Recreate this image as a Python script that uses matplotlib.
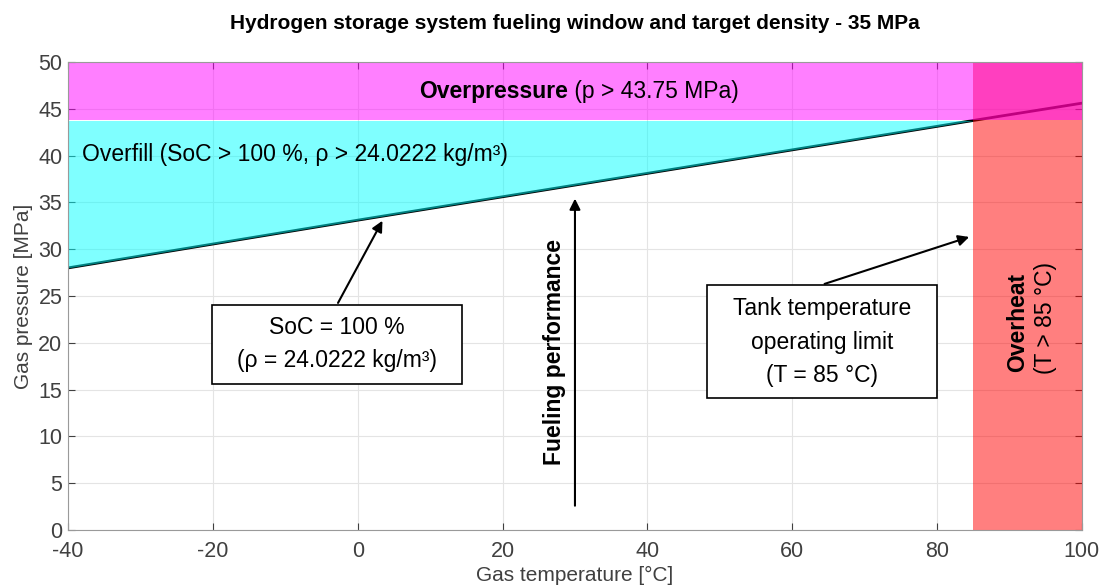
import numpy as np
import matplotlib.pyplot as plt
from matplotlib.patches import Rectangle

plt.rcParams['font.family'] = ['Liberation Sans', 'DejaVu Sans']
plt.rcParams['axes.unicode_minus'] = False

# temperatura [°C] e pressão [MPa] da linha SoC = 100 %
temp_soc = [-40, 0, 40, 85, 100]
press_soc = [28.0, 33.1, 38.1, 43.75, 45.6]

t_min, t_max = -40, 100
p_limite = 43.75
t_limite = 85
p_max = 50

xticks = [-40, -20, 0, 20, 40, 60, 80, 100]
yticks = [0, 5, 10, 15, 20, 25, 30, 35, 40, 45, 50]

fs = 16.5  # tamanho das anotações

fig = plt.figure(figsize=(11.04, 5.88), dpi=100)
ax = fig.add_axes([0.0616, 0.0986, 0.9184, 0.796])

t = np.array(temp_soc)
p = np.array(press_soc)

# linha SoC (por baixo das regiões transparentes)
ax.plot(t, p, color='black', lw=2, zorder=1)

# sobreaquecimento
ax.fill_between([t_limite, t_max], 0, p_max, color='red', alpha=0.5, lw=0, zorder=2)
# região de sobrepressão
ax.fill_between([t_min, t_max], p_limite, p_max, color='magenta', alpha=0.5, lw=0, zorder=2)
# overfill entre a linha e o limite de pressão
m = t <= t_limite
ax.fill_between(t[m], p[m], p_limite, color='cyan', alpha=0.5, lw=0, zorder=2)

ax.set_xlim(t_min, t_max)
ax.set_ylim(0, p_max)
ax.set_xticks(xticks)
ax.set_yticks(yticks)
ax.grid(True, color='#e4e4e4', lw=0.8, zorder=0)
ax.set_axisbelow(True)
ax.tick_params(direction='in', which='both', top=True, right=True,
               labelsize=15.5, colors='#404040', length=5)
ax.tick_params(axis='x', pad=8)
ax.tick_params(axis='y', pad=4)
for s in ax.spines.values():
    s.set_color('#9a9a9a')
    s.set_zorder(5)

ax.set_title('Hydrogen storage system fueling window and target density - 35 MPa',
             fontsize=15, fontweight='bold', pad=24)
ax.set_xlabel('Gas temperature [°C]', fontsize=15, color='#404040', labelpad=3)
ax.set_ylabel('Gas pressure [MPa]', fontsize=15, color='#404040', labelpad=4)

# textos das regiões
ax.text(29.0, 46.8, 'Overpressure', fontsize=fs, fontweight='bold',
        ha='right', va='center', zorder=6)
ax.text(29.0, 46.8, ' (p > 43.75 MPa)', fontsize=fs,
        ha='left', va='center', zorder=6)
ax.text(-38.1, 40.1, 'Overfill (SoC > 100 %, ρ > 24.0222 kg/m³)', fontsize=fs,
        ha='left', va='center', zorder=6)
ax.text(91.1, 22.2, 'Overheat', fontsize=fs, fontweight='bold', rotation=90,
        ha='center', va='center', zorder=6)
ax.text(95.0, 22.6, '(T > 85 °C)', fontsize=fs, rotation=90,
        ha='center', va='center', zorder=6)

# seta SoC
ax.annotate('', xy=(3.6, 33.3), xytext=(-2.9, 24.0),
            arrowprops=dict(arrowstyle='-|>', color='black', lw=1.5, mutation_scale=16),
            zorder=6)
ax.add_patch(Rectangle((-20.1, 15.6), 34.5, 8.45, fill=True, facecolor='white',
                       edgecolor='black', lw=1.2, zorder=6))
ax.text(-2.9, 21.6, 'SoC = 100 %', fontsize=fs, ha='center', va='center', zorder=7)
ax.text(-2.9, 18.1, '(ρ = 24.0222 kg/m³)', fontsize=fs, ha='center', va='center', zorder=7)

# seta de desempenho
ax.annotate('', xy=(30, 35.7), xytext=(30, 2.3),
            arrowprops=dict(arrowstyle='-|>', color='black', lw=1.5, mutation_scale=16),
            zorder=6)
ax.text(27.2, 19.0, 'Fueling performance', fontsize=fs, fontweight='bold',
        rotation=90, ha='center', va='center', zorder=6)

# seta limite de temperatura
ax.annotate('', xy=(84.8, 31.4), xytext=(64.1, 26.2),
            arrowprops=dict(arrowstyle='-|>', color='black', lw=1.5, mutation_scale=16),
            zorder=6)
ax.add_patch(Rectangle((48.2, 14.1), 31.8, 12.1, fill=True, facecolor='white',
                       edgecolor='black', lw=1.2, zorder=6))
ax.text(64.1, 23.7, 'Tank temperature', fontsize=fs, ha='center', va='center', zorder=7)
ax.text(64.1, 20.0, 'operating limit', fontsize=fs, ha='center', va='center', zorder=7)
ax.text(64.1, 16.5, '(T = 85 °C)', fontsize=fs, ha='center', va='center', zorder=7)

fig.savefig('out.png', dpi=100)
